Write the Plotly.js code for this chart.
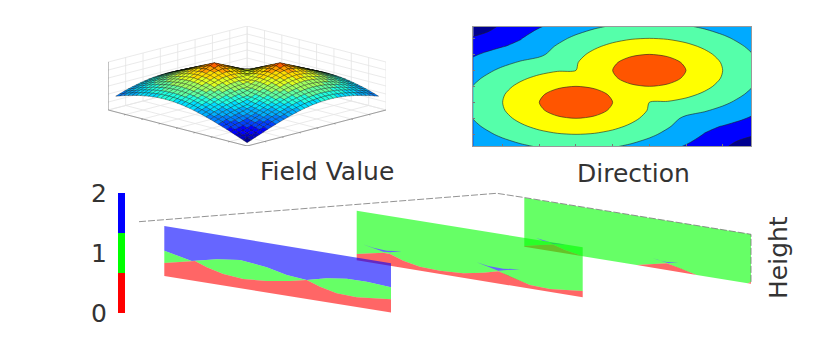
<!DOCTYPE html>
<html><head><meta charset="utf-8">
<script src="https://cdn.plot.ly/plotly-3.0.1.min.js"></script>
<style>html,body{margin:0;padding:0;background:#fff}</style></head>
<body><div id="plot" style="width:830px;height:352px"></div>
<script>
var fieldX=[-6,-5,-4,-3,-2,-1,0,1,2,3,4,5,6,7,8,9,10];
var fieldY=[0,1,2,3,4,5,6,7,8,9,10,11,12,13,14,15,16];
var fieldZ=[
[.17,.59,1.0,1.39,1.76,2.10,2.40,2.65,2.84,2.96,3.0,2.96,2.84,2.65,2.40,2.10,1.76],
[.59,.85,1.28,1.70,2.10,2.46,2.80,3.08,3.31,3.45,3.5,3.45,3.31,3.08,2.80,2.46,2.10],
[1.0,1.28,1.53,1.97,2.40,2.80,3.17,3.5,3.76,3.94,4.0,3.94,3.76,3.5,3.17,2.80,2.40],
[1.39,1.70,1.97,2.19,2.65,3.08,3.5,3.88,4.20,4.42,4.5,4.42,4.20,3.88,3.5,3.08,2.65],
[1.76,2.10,2.40,2.65,2.84,3.31,3.76,4.20,4.59,4.88,5.0,4.88,4.59,4.20,3.76,3.31,2.84],
[2.10,2.46,2.80,3.08,3.31,3.45,3.94,4.42,4.88,5.29,5.5,5.29,4.88,4.42,3.94,3.45,2.96],
[2.40,2.80,3.17,3.5,3.76,3.94,4.0,4.5,5.0,5.5,6.0,5.5,5.0,4.5,4.0,3.5,3.0],
[2.65,3.08,3.5,3.88,4.20,4.42,4.5,4.42,4.88,5.29,5.5,5.29,4.88,4.42,3.94,3.45,2.96],
[2.84,3.31,3.76,4.20,4.59,4.88,5.0,4.88,4.59,4.88,5.0,4.88,4.59,4.20,3.76,3.31,2.84],
[2.96,3.45,3.94,4.42,4.88,5.29,5.5,5.29,4.88,4.42,4.5,4.42,4.20,3.88,3.5,3.08,2.65],
[3.0,3.5,4.0,4.5,5.0,5.5,6.0,5.5,5.0,4.5,4.0,3.94,3.76,3.5,3.17,2.80,2.40],
[2.96,3.45,3.94,4.42,4.88,5.29,5.5,5.29,4.88,4.42,3.94,3.45,3.31,3.08,2.80,2.46,2.10],
[2.84,3.31,3.76,4.20,4.59,4.88,5.0,4.88,4.59,4.20,3.76,3.31,2.84,2.65,2.40,2.10,1.76],
[2.65,3.08,3.5,3.88,4.20,4.42,4.5,4.42,4.20,3.88,3.5,3.08,2.65,2.19,1.97,1.70,1.39],
[2.40,2.80,3.17,3.5,3.76,3.94,4.0,3.94,3.76,3.5,3.17,2.80,2.40,1.97,1.53,1.28,1.0],
[2.10,2.46,2.80,3.08,3.31,3.45,3.5,3.45,3.31,3.08,2.80,2.46,2.10,1.70,1.28,.85,.59],
[1.76,2.10,2.40,2.65,2.84,2.96,3.0,2.96,2.84,2.65,2.40,2.10,1.76,1.39,1.0,.59,.17]];

var p1RedX=[164.3,391,391,356.7,336.7,320,306.7,290,266.7,243.3,223.3,206.7,195,180,164.3];
var p1RedY=[276,312.5,299.3,297.3,293.3,286.7,280,281,281,279,274,267.3,261,262,263];
var p1GreenX=[164.3,180,195,206.7,223.3,243.3,266.7,290,306.7,320,336.7,356.7,391,391,366.7,346.7,326.7,306.7,286.7,266.7,240,216.7,191.7,164.3];
var p1GreenY=[263,262,261,267.3,274,279,281,281,280,286.7,293.3,297.3,299.3,287.3,281.7,278.7,278.3,280,275,267.3,260,259.3,261,250.7];
var p1BlueX=[164.3,191.7,216.7,240,266.7,286.7,306.7,326.7,346.7,366.7,391,391,164.3];
var p1BlueY=[250.7,261,259.3,260,267.3,275,280,278.3,278.7,281.7,287.3,263.3,226];

var p2RedX=[356.7,582.7,582.7,550,530,510,498.3,483.3,463.3,440,420,403.3,390,383.3,373.3,356.7];
var p2RedY=[260.3,297.3,291,289,285,276.7,271.3,272.7,273.3,270.7,266.7,260.7,254,252.7,253.3,254];
var p2GreenX=[356.7,373.3,383.3,390,403.3,420,440,463.3,483.3,498.3,510,530,550,582.7,582.7,356.7];
var p2GreenY=[254,253.3,252.7,254,260.7,266.7,270.7,273.3,272.7,271.3,276.7,285,289,291,247.3,210.7];
var p2BlueAX=[362.7,376.7,383.3,390,401.7,386.7,373.3];
var p2BlueAY=[244.3,249,251.7,252.3,251.3,250.7,247.7];
var p2BlueBX=[476.7,490,498.3,506.7,520,503.3,488.3];
var p2BlueBY=[262.3,267.7,270.7,270,269.3,268.7,266];

var p3RedAX=[524.3,582.7,565,553,540,524.3];
var p3RedAY=[246.7,256.2,250,244.5,245,246];
var p3RedBX=[636.7,696.7,680,666.7];
var p3RedBY=[265,275,268.3,263.3];
var p3RedCX=[747.7,751,751];
var p3RedCY=[283.2,283.7,282];
var p3GreenX=[524.3,751,751,747.7,696.7,680,666.7,636.7,582.7,565,553,540,524.3];
var p3GreenY=[197.7,234.3,282,283.2,275,268.3,263.3,265,256.2,250,244.5,245,246];
var p3BlueAX=[536,548,553,566,553,542];
var p3BlueAY=[238,241.5,244,244.5,243,240.5];
var p3BlueBX=[653.3,663.3,668,678.3,666.7,658];
var p3BlueBY=[258.3,261.7,263,262.3,262,260];

var frameX=[139,410,496.7,524,751,751];
var frameY=[221.7,200.7,193.3,197.5,234.3,283.7];

var barBands=[2/3,2/3,2/3];
var barColors=['#ff0000','#00ff00','#0000ff'];
var barTicks=[0,1,2];

var jetSteps=['#000090','#0000c8','#0000ff','#0040ff','#0080ff','#00b0ff','#00e0ff','#20ffdf','#60ff9f','#a0ff60','#dfff20','#ffdf00','#ffa000','#ff6000','#ff2000','#c00000'];
var contourColors=['#00008f','#0000ff','#00aaff','#55ffaa','#ffff00','#ff5500'];
function stepped(cols){var s=[];for(var k=0;k<cols.length;k++){s.push([k/cols.length,cols[k]]);s.push([(k+1)/cols.length,cols[k]]);}return s;}

function poly(x,y,c){return {type:'scatter',xaxis:'x',yaxis:'y',x:x,y:y,mode:'lines',line:{width:0},fill:'toself',fillcolor:c,hoverinfo:'skip',showlegend:false};}
var R='rgba(255,0,0,0.6)',G='rgba(0,255,0,0.6)',B='rgba(0,0,255,0.6)',BS='#6666ff',RS='#ff6666';
var traces=[
 poly(p3GreenX,p3GreenY,G),poly(p3RedAX,p3RedAY,R),poly(p3RedBX,p3RedBY,R),poly(p3RedCX,p3RedCY,R),poly(p3BlueAX,p3BlueAY,BS),poly(p3BlueBX,p3BlueBY,BS),
 poly(p2GreenX,p2GreenY,G),poly(p2RedX,p2RedY,R),poly(p2BlueAX,p2BlueAY,BS),poly(p2BlueBX,p2BlueBY,BS),
 poly(p1BlueX,p1BlueY,B),poly(p1GreenX,p1GreenY,G),poly(p1RedX,p1RedY,R),
 {type:'scatter',xaxis:'x',yaxis:'y',x:frameX,y:frameY,mode:'lines',line:{color:'#777',width:0.8,dash:'7px,2px'},hoverinfo:'skip',showlegend:false},
 {type:'contour',xaxis:'x2',yaxis:'y2',x:fieldX,y:fieldY,z:fieldZ,zmin:0,zmax:6,colorscale:stepped(contourColors),showscale:false,
  autocontour:false,contours:{start:1,end:5,size:1,coloring:'fill'},line:{color:'#222',width:0.6,smoothing:0.8},hoverinfo:'skip'}
];
barBands.forEach(function(v,k){traces.push({type:'bar',xaxis:'x3',yaxis:'y3',x:[0],y:[v],width:1,marker:{color:barColors[k],line:{width:0}},hoverinfo:'skip',showlegend:false});});

/* 3-D box projected on the x4/y4 axes (no WebGL): a runs to the left corner, b to the right corner */
var boxSpan=16.9,boxPad=0.45,zTop=6.1,depth=36,tall=48;
function px(a,b){return b-a;}
function py(a,b,z){return (a+b)*depth+z*tall;}
function seg(xs,ys,c,w){return {type:'scatter',xaxis:'x4',yaxis:'y4',x:xs,y:ys,mode:'lines',line:{color:c,width:w},hoverinfo:'skip',showlegend:false};}
function cagePath(pts,c,w){return seg(pts.map(function(p){return px(p[0],p[1]);}),pts.map(function(p){return py(p[0],p[1],p[2]);}),c,w);}
var gridC='#e4e4e4',axisC='#8a8a8a';
for(var t=0;t<=8;t++){var f=t/8;
 traces.push(cagePath([[1,f,0],[1,f,1]],gridC,0.8));
 traces.push(cagePath([[f,1,0],[f,1,1]],gridC,0.8));
 traces.push(cagePath([[0,f,0],[1,f,0]],gridC,0.8));
 traces.push(cagePath([[f,0,0],[f,1,0]],gridC,0.8));
}
for(var k=0;k<=6;k++){traces.push(cagePath([[1,0,k/6],[1,1,k/6],[0,1,k/6]],gridC,0.8));}
traces.push(cagePath([[1,0,0],[0,0,0],[0,1,0]],axisC,0.8));
traces.push(cagePath([[1,0,0],[1,0,1]],axisC,0.8));
for(t=0;t<=8;t++){f=t/8;
 traces.push(cagePath([[f,0,0],[f,-0.012,0]],axisC,0.8));
 traces.push(cagePath([[0,f,0],[-0.012,f,0]],axisC,0.8));
}
for(k=0;k<=6;k++){traces.push(cagePath([[1,0,k/6],[1.012,0,k/6]],axisC,0.8));}

/* surface faces, painted from the back corner to the front corner */
function zAt(p,q){var i0=Math.floor(p/2),j0=Math.floor(q/2),i1=Math.min(i0+1,16),j1=Math.min(j0+1,16),u=p/2-i0,v=q/2-j0;
 return (fieldZ[j0][i0]*(1-u)*(1-v)+fieldZ[j0][i1]*u*(1-v)+fieldZ[j1][i0]*(1-u)*v+fieldZ[j1][i1]*u*v);}
function vert(p,q){var a=(q/2+boxPad)/boxSpan,b=(p/2+boxPad)/boxSpan,z=zAt(p,q)/zTop;return [px(a,b),py(a,b,z)];}
var zColorTop=7;
for(var s=62;s>=0;s--){
 var groups={};
 for(var p=0;p<32;p++){var q=s-p;if(q<0||q>=32)continue;
  var m=(zAt(p,q)+zAt(p+1,q)+zAt(p,q+1)+zAt(p+1,q+1))/4;
  var n=Math.min(jetSteps.length-1,Math.floor(m/zColorTop*jetSteps.length));
  var c=jetSteps[n];if(!groups[c])groups[c]={x:[],y:[]};
  [[p,q],[p+1,q],[p+1,q+1],[p,q+1],[p,q]].forEach(function(e){var w=vert(e[0],e[1]);groups[c].x.push(w[0]);groups[c].y.push(w[1]);});
  groups[c].x.push(null);groups[c].y.push(null);
 }
 Object.keys(groups).forEach(function(c){traces.push({type:'scatter',xaxis:'x4',yaxis:'y4',x:groups[c].x,y:groups[c].y,mode:'lines',fill:'toself',fillcolor:c,line:{color:'rgba(0,0,0,0.6)',width:0.5},hoverinfo:'skip',showlegend:false});});
}

function dx(a,b){return [a/830,b/830];}
function dy(a,b){return [1-b/352,1-a/352];}
var hidden={visible:false,fixedrange:true};
var layout={width:830,height:352,margin:{l:0,r:0,t:0,b:0},paper_bgcolor:'#fff',plot_bgcolor:'rgba(0,0,0,0)',showlegend:false,barmode:'stack',bargap:0,
 font:{family:'DejaVu Sans',color:'#333'},
 xaxis:Object.assign({domain:[0,1],range:[0,830]},hidden),
 yaxis:Object.assign({domain:[0,1],range:[352,0]},hidden),
 xaxis2:{domain:dx(473.3,751),range:[-5.6,9.545],anchor:'y2',mirror:true,showline:true,linecolor:'#999',linewidth:1,ticks:'inside',ticklen:2,tickcolor:'#777',tick0:0,dtick:2,showticklabels:false,showgrid:false,zeroline:false,fixedrange:true},
 yaxis2:{domain:dy(26.7,146),range:[15.46,0.54],anchor:'x2',mirror:true,showline:true,linecolor:'#999',linewidth:1,ticks:'inside',ticklen:2,tickcolor:'#777',tick0:0,dtick:2,showticklabels:false,showgrid:false,zeroline:false,fixedrange:true},
 xaxis3:{domain:dx(118,125),range:[-0.5,0.5],anchor:'y3',visible:false,fixedrange:true},
 yaxis3:{domain:dy(193,313),range:[0,2],anchor:'x3',tickmode:'array',tickvals:barTicks,ticktext:['0','1','2'],tickfont:{size:25,color:'#333'},showgrid:false,zeroline:false,showline:false,ticks:'outside',ticklen:5,tickcolor:'rgba(0,0,0,0)',fixedrange:true},
 xaxis4:{domain:dx(108.3,386),range:[-1,1],anchor:'y4',visible:false,fixedrange:true},
 yaxis4:{domain:dy(26,146),range:[0,120],anchor:'x4',visible:false,fixedrange:true},
 annotations:[
  {xref:'x',yref:'y',x:327,y:171,text:'Field Value',showarrow:false,font:{size:25,color:'#333'}},
  {xref:'x',yref:'y',x:633,y:173,text:'Direction',showarrow:false,font:{size:25,color:'#333'}},
  {xref:'x',yref:'y',x:778,y:258,text:'Height',textangle:-90,showarrow:false,font:{size:25,color:'#333'}}]
};
Plotly.newPlot('plot',traces,layout,{displayModeBar:false,staticPlot:true});
</script></body></html>
